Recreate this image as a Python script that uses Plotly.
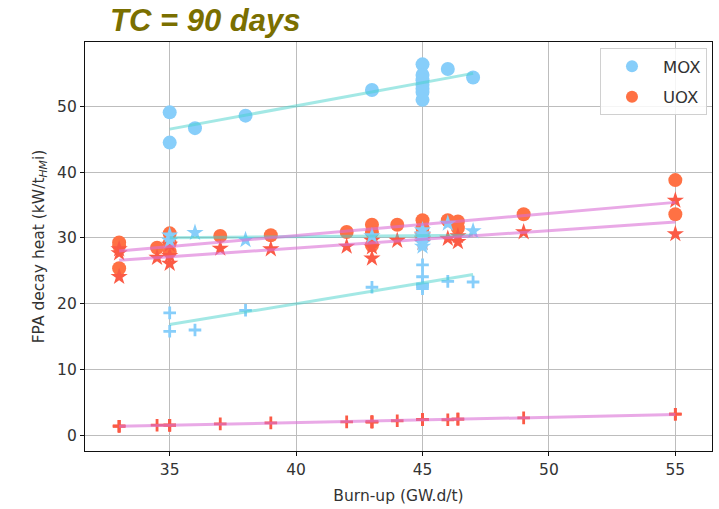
import numpy as np
import plotly.graph_objects as go

# ---- MOX assemblies: burn-up (GW.d/t) and FPA decay heat (kW/tHMi) ----
mox_burnup = [35, 35, 36, 38, 43, 45, 45, 45, 45, 45, 45, 45, 46, 47]
mox_circle = [49.1, 44.5, 46.7, 48.6, 52.5, 56.4, 54.8, 54.0, 53.3, 52.7, 52.2, 51.0, 55.7, 54.4]
mox_star = [30.4, 29.6, 30.8, 29.7, 30.3, 31.2, 30.6, 30.0, 29.6, 29.2, 28.7, 30.3, 32.2, 31.05]
mox_plus = [18.6, 15.8, 16.0, 19.0, 22.5, 25.9, 24.1, 23.0, 22.8, 22.6, 22.3, 22.9, 23.4, 23.3]

# ---- UOX assemblies ----
uox_burnup = [33, 33, 33, 34.5, 35, 35, 35, 37, 39, 42, 43, 43, 43, 44, 45, 45, 45,
              46, 46.4, 46.4, 49, 55, 55]
uox_circle = [29.3, 28.8, 25.4, 28.5, 30.7, 29.2, 27.9, 30.3, 30.4, 30.9, 32.0, 30.9, 28.9,
              32.0, 32.7, 31.5, 30.6, 32.7, 32.5, 31.5, 33.6, 38.8, 33.6]
uox_star = [28.3, 27.7, 24.1, 27.0, 29.0, 27.3, 26.1, 28.4, 28.3, 28.7, 29.6, 28.6, 26.9,
            29.6, 30.4, 29.8, 29.3, 29.9, 30.3, 29.4, 30.9, 35.7, 30.6]
uox_plus = [1.37, 1.37, 1.37, 1.52, 1.52, 1.52, 1.52, 1.72, 1.87, 2.03, 2.03, 2.03, 2.03,
            2.2, 2.38, 2.38, 2.38, 2.35, 2.45, 2.45, 2.64, 3.2, 3.2]

x_ticks = [35, 40, 45, 50, 55]
y_ticks = [0, 10, 20, 30, 40, 50]

MOX_COLOR = "#87cefa"
UOX_COLOR = "#ff7144"
UOX_COLOR2 = "#fb5a45"
MOX_FIT = "rgba(72,209,204,0.5)"
UOX_FIT = "rgba(218,112,214,0.6)"

fig = go.Figure()


def add_points(x, y, color, symbol, size, name=None, legend=False):
    marker = dict(color=color, size=size, symbol=symbol, line=dict(width=0))
    if symbol == "cross-thin":
        marker = dict(color=color, size=size, symbol=symbol, line=dict(width=2.8, color=color))
    fig.add_trace(go.Scatter(x=x, y=y, mode="markers", marker=marker,
                             name=name, showlegend=legend,
                             legendgroup=name if legend else None))


def add_fit(x, y, color):
    k, b = np.polyfit(x, y, 1)
    xs = np.array([min(x), max(x)])
    fig.add_trace(go.Scatter(x=xs, y=k * xs + b, mode="lines",
                             line=dict(color=color, width=3), showlegend=False,
                             hoverinfo="skip"))


# markers
add_points(mox_burnup, mox_circle, MOX_COLOR, "circle", 14, "MOX", True)
add_points(uox_burnup, uox_circle, UOX_COLOR, "circle", 14, "UOX", True)
add_points(uox_burnup, uox_star, UOX_COLOR2, "star", 13)
add_points(mox_burnup, mox_star, MOX_COLOR, "star", 13)
add_points(mox_burnup, mox_plus, MOX_COLOR, "cross-thin", 9)
add_points(uox_burnup, uox_plus, UOX_COLOR2, "cross-thin", 9)

# linear trends drawn over the markers
add_fit(mox_burnup, mox_circle, MOX_FIT)
add_fit(mox_burnup, mox_star, MOX_FIT)
add_fit(mox_burnup, mox_plus, MOX_FIT)
add_fit(uox_burnup, uox_circle, UOX_FIT)
add_fit(uox_burnup, uox_star, UOX_FIT)
add_fit(uox_burnup, uox_plus, UOX_FIT)

axis_common = dict(
    showline=True, mirror=True, linecolor="#111", linewidth=1.2,
    ticks="outside", ticklen=4, tickcolor="#111", tickwidth=1,
    showgrid=True, gridcolor="#bdbdbd", gridwidth=1, zeroline=False,
    tickfont=dict(family="DejaVu Sans", size=15.5, color="#333"),
)

title_font = dict(family="DejaVu Sans", size=15.5, color="#333")

fig.update_layout(
    width=719, height=509,
    margin=dict(l=85, r=7, t=42, b=58),
    paper_bgcolor="white", plot_bgcolor="white",
    font=dict(family="DejaVu Sans", size=15, color="#333"),
    xaxis=dict(range=[31.65, 56.45], tickvals=x_ticks,
               title=dict(text="Burn-up (GW.d/t)", standoff=12, font=title_font),
               **axis_common),
    yaxis=dict(range=[-2.4, 59.8], tickvals=y_ticks,
               title=dict(text="FPA decay heat (kW/t<sub><i>HM</i></sub>i)", standoff=8,
                          font=title_font),
               **axis_common),
    legend=dict(x=0.992, y=0.985, xanchor="right", yanchor="top",
                bgcolor="rgba(255,255,255,0.85)", bordercolor="#d0d0d0", borderwidth=1,
                font=dict(family="DejaVu Sans", size=16.5, color="#333"),
                itemsizing="constant", itemwidth=52, tracegroupgap=6),
    annotations=[dict(
        text="<b><i>TC = 90 days</i></b>", xref="paper", yref="paper",
        x=0.191, y=1.0, yshift=22, xanchor="center", yanchor="middle", showarrow=False,
        font=dict(family="Liberation Sans", size=31, color="#7a6f00"),
    )],
)

fig.write_html("out.html")
